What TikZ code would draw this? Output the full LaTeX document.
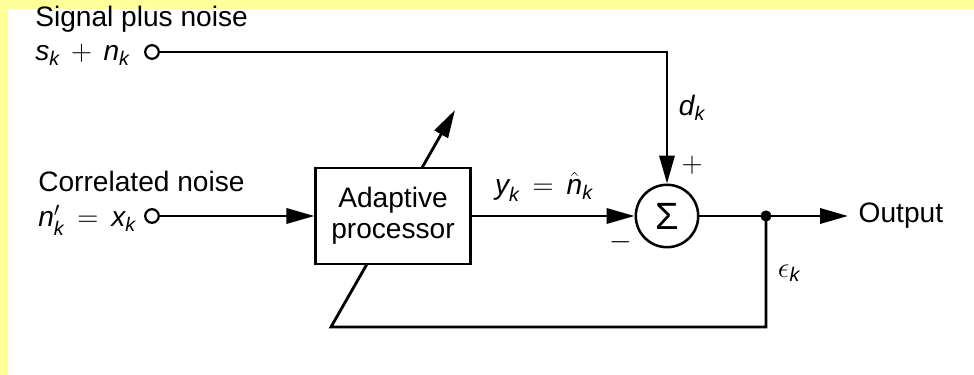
\documentclass[tikz,border=0pt]{standalone}
\usepackage{amsmath}
\usepackage{fontspec}
\setmainfont{Liberation Sans}
\usetikzlibrary{arrows.meta,positioning}
\definecolor{paleyellow}{HTML}{FFFF99}
\newcommand{\iv}[1]{\textit{#1}}

\begin{document}
\begin{tikzpicture}[x=0.25mm,y=0.25mm,
      font=\fontsize{20}{23}\selectfont,
      box/.style={draw=black,line width=2pt,minimum width=38.6mm,minimum height=24mm,align=center,fill=white,font=\fontsize{20}{22}\selectfont},
      sumnode/.style={circle,draw=black,line width=1.8pt,minimum size=15.6mm,inner sep=0pt,fill=white},
      term/.style={circle,draw=black,line width=1.6pt,minimum size=3.4mm,inner sep=0pt,fill=white},
      dot/.style={circle,fill=black,minimum size=2.8mm,inner sep=0pt},
      lbl/.style={inner sep=0pt},
      arr/.style={-{Triangle[length=7mm,width=3.8mm]},line width=2pt}
    ]
    \fill[paleyellow] (0,0) rectangle (974,375);
    \fill[white] (8,0) rectangle (974,366);
    \useasboundingbox (0,0) rectangle (974,375);

    \node[term] (sig) at (152,323) {};
    \node[term] (cor) at (152,159) {};
    \node[lbl,anchor=base west] (sigtxt) at (35,348) {Signal plus noise};
    \node[lbl,anchor=base west] (sigeq) at (35,314) {$\iv{s}_{\iv{k}} \,+\, \iv{n}_{\iv{k}}$};
    \node[lbl,anchor=base west] (cortxt) at (38,183) {Correlated noise};
    \node[lbl,anchor=base west] (coreq) at (38,148) {$\iv{n}'_{\iv{k}} \,=\, \iv{x}_{\iv{k}}$};

    \coordinate (tap) at (766,159);
    \coordinate (fbl) at (331,48);
    \coordinate (adj) at (455,265);
    \draw[arr] (tap) |- (fbl) -- (adj);

    \node[box] (proc) at (393,159) {Adaptive\\processor};
    \node[sumnode] (sum) at (667,159) {\fontsize{27}{30}\selectfont Σ};
    \node[anchor=west,inner xsep=2.6mm,inner ysep=0pt] (out) at (848,159) {Output};

    \draw[arr] (cor) -- (proc);
    \draw[arr] (proc) -- (sum);
    \draw[arr] (sig) -| (sum);
    \draw[arr] (sum) -- (out);
    \node[dot] (tapdot) at (tap) {};

    \node (dk) at (692,267) {$\iv{d}_{\iv{k}}$};
    \node (plus) at (692,210) {$+$};
    \node (minus) at (621,133) {$-$};
    \node (yk) at (544,188) {$\iv{y}_{\iv{k}} \,=\, \hat{\iv{n}}_{\iv{k}}$};
    \node (ek) at (789,102) {$\epsilon_{\iv{k}}$};
  \end{tikzpicture}
\end{document}
